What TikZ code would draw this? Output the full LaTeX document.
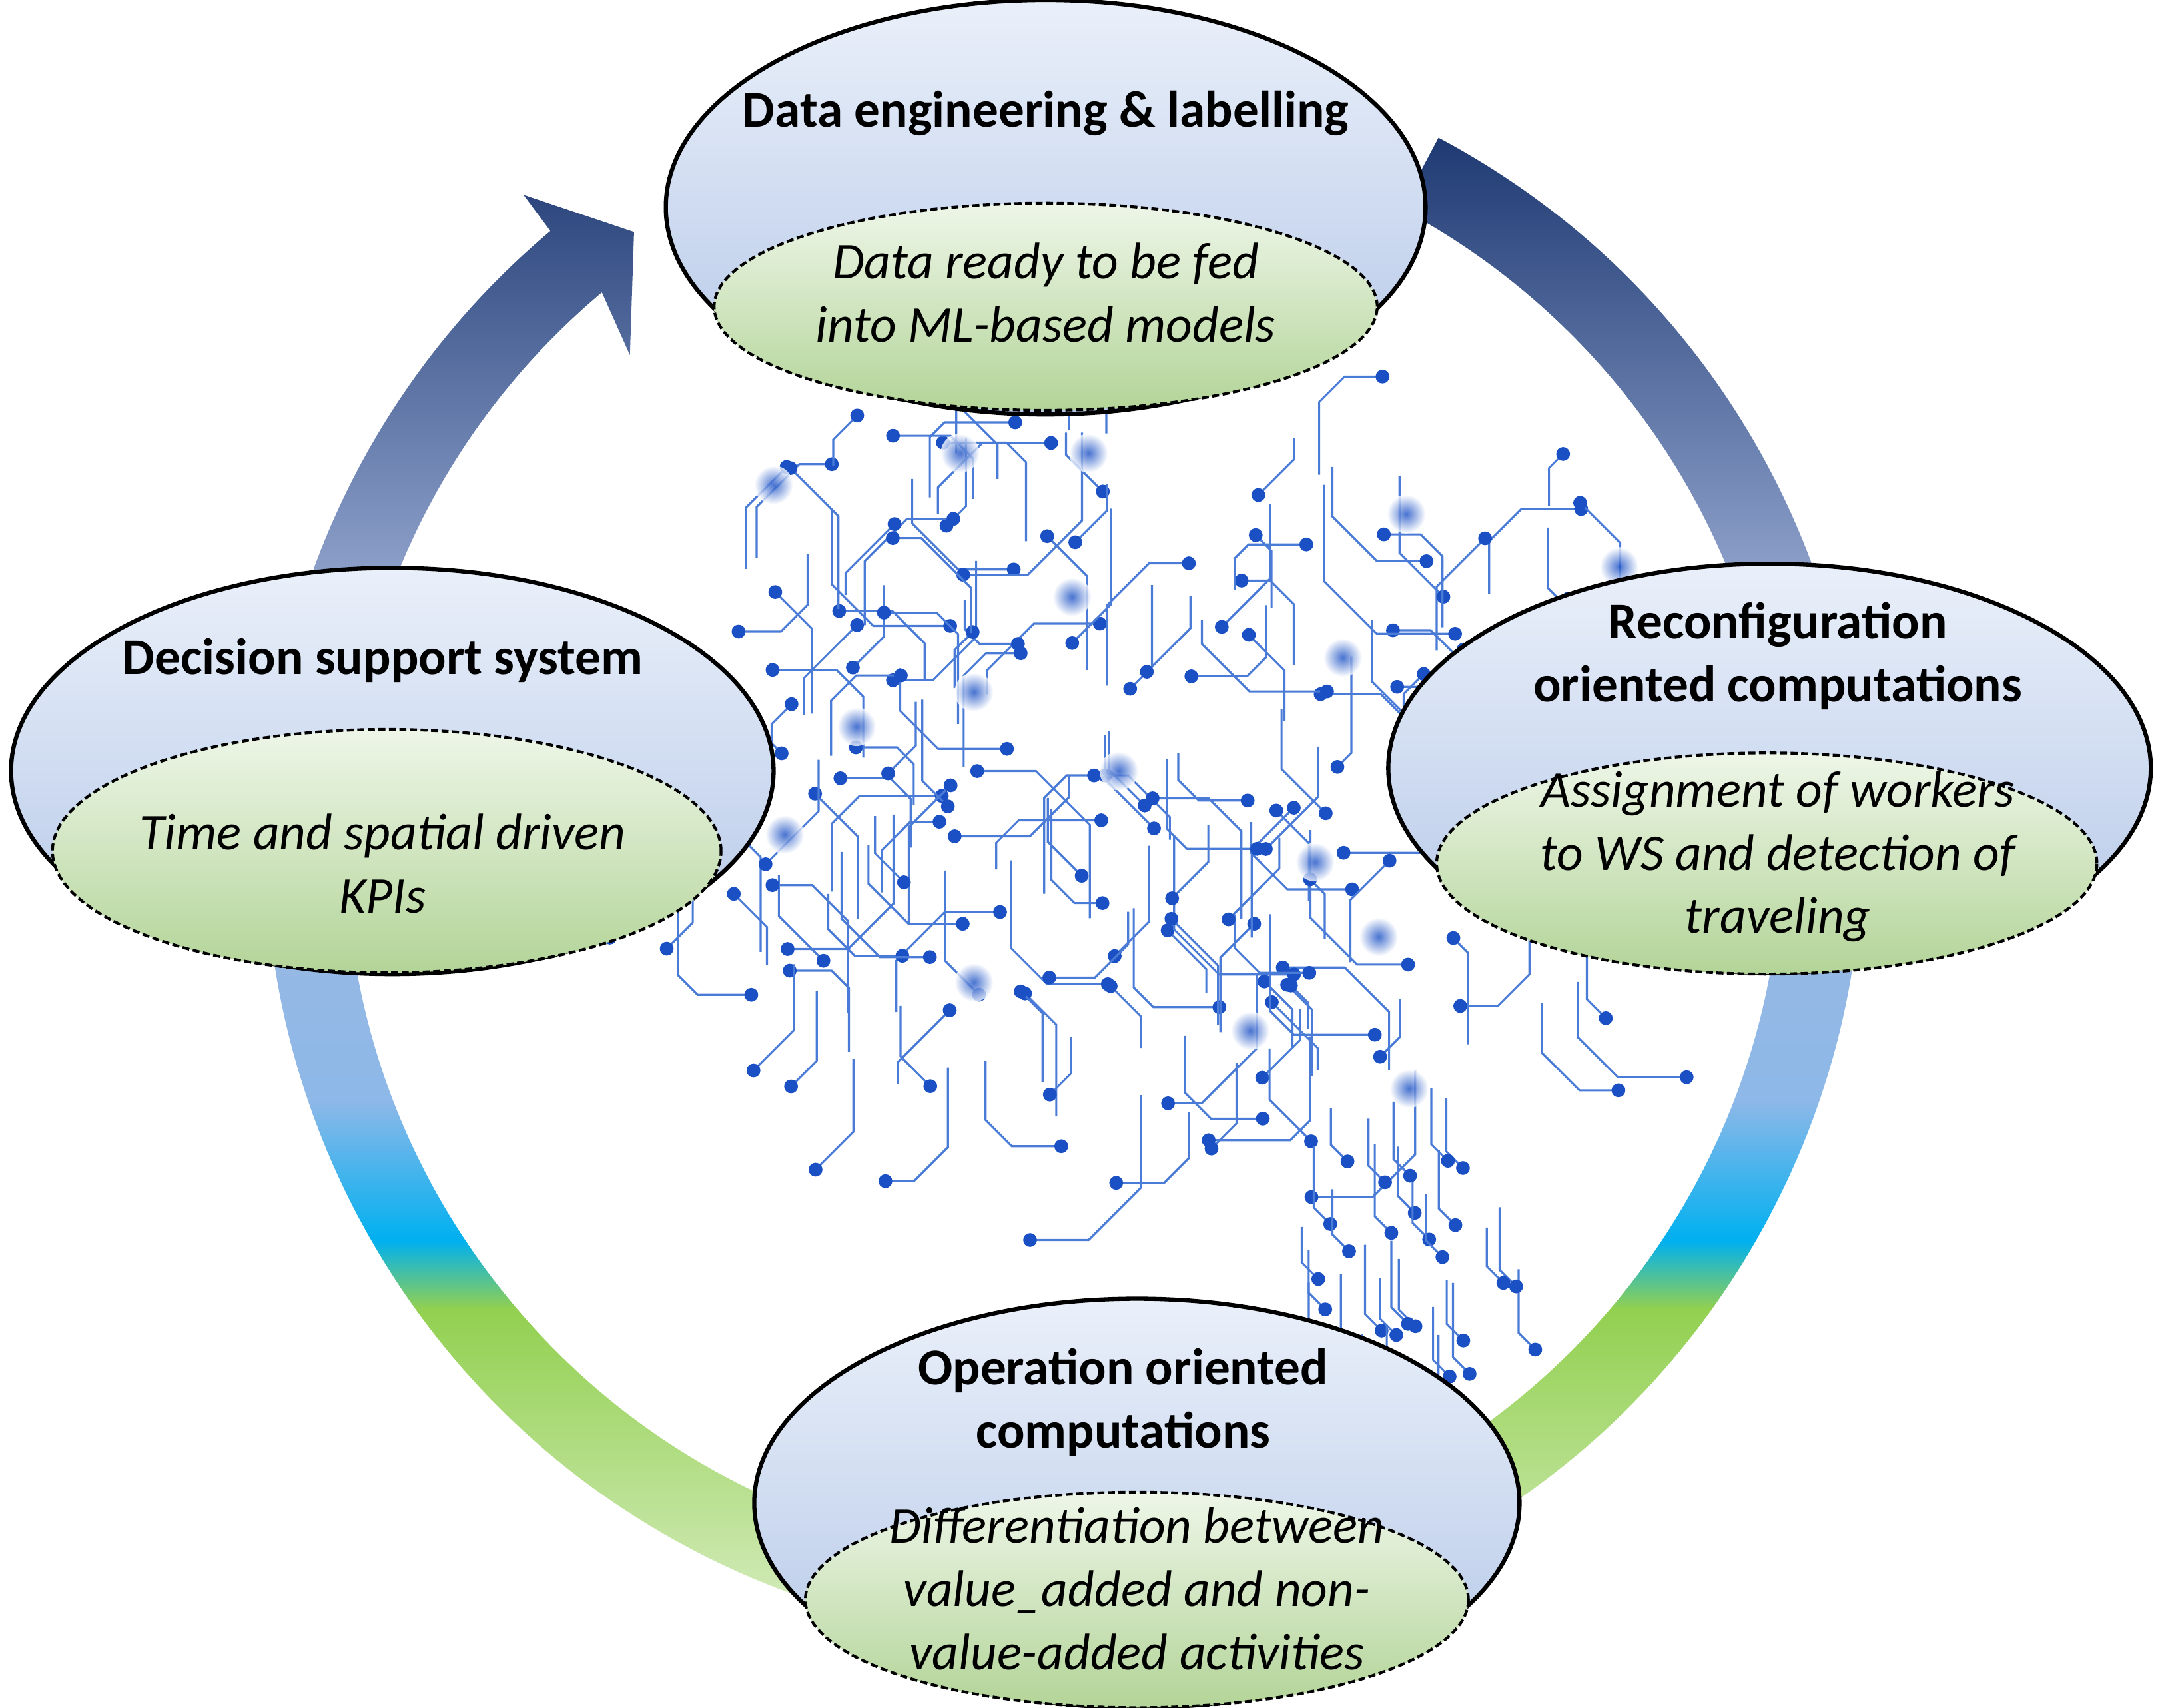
\documentclass[tikz,border=0pt]{standalone}
\usepackage{fontspec}
\setmainfont{Carlito}
\definecolor{navyring}{HTML}{1F3A73}
\definecolor{blueringA}{HTML}{A6B8DE}
\definecolor{blueringB}{HTML}{8DB8E8}
\definecolor{cyanring}{HTML}{00B0F0}
\definecolor{greenring}{HTML}{92D050}
\definecolor{palering}{HTML}{F2F8EE}
\definecolor{wire}{HTML}{4A7BD6}
\definecolor{pad}{HTML}{1A50C4}
\definecolor{elltop}{HTML}{EAF0FA}
\definecolor{ellbot}{HTML}{B4C7E7}
\definecolor{inntop}{HTML}{EEF6E8}
\definecolor{innbot}{HTML}{B3D498}
\newcommand\pxu{0.02074cm}
\pgfdeclareverticalshading{ringshade}{100bp}{color(0bp)=(palering); color(25bp)=(palering);
  color(38.8bp)=(greenring); color(40.9bp)=(cyanring); color(45.2bp)=(blueringB);
  color(58.2bp)=(blueringA); color(75bp)=(navyring); color(100bp)=(navyring)}
\usetikzlibrary{shapes.geometric,calc}
\tikzset{
  outerell/.style={ellipse, draw=black, line width=1.8pt, top color=elltop, bottom color=ellbot, inner sep=0pt},
  innerell/.style={ellipse, draw=black, line width=1.2pt, dash pattern=on 3pt off 1.5pt, top color=inntop, bottom color=innbot, inner sep=0pt},
  title/.style={font=\fontsize{22}{27}\selectfont\bfseries, align=center},
  detail/.style={font=\fontsize{22}{27}\selectfont\itshape, align=center},
}
\begin{document}
\begin{tikzpicture}[x=\pxu,y=\pxu]
    \useasboundingbox (0,0) rectangle (1568,1236);

    % circuit brain
    \pgfmathsetseed{11}
    \foreach \i in {1,...,170}{
        \pgfmathsetmacro\ang{360*rnd}
        \pgfmathsetmacro\rad{sqrt(rnd)}
        \pgfmathsetmacro\px{830+400*\rad*cos(\ang)}
        \pgfmathsetmacro\py{690+270*\rad*sin(\ang)}
        \pgfmathsetmacro\len{(rnd<0.5?-1:1)*(15+55*rnd)}
        \pgfmathsetmacro\dx{(rnd<0.5?-1:1)*(10+30*rnd)}
        \pgfmathsetmacro\dy{(\len<0?-1:1)*abs(\dx)}
        \pgfmathsetmacro\hx{(\dx<0?-1:1)*(rnd<0.5?0:20+40*rnd)}
        \draw[wire, line width=0.9pt] (\px,\py) -- ++(0,\len) -- ++(\dx,\dy) -- ++(\hx,0) coordinate (e\i);
        \fill[pad] (e\i) circle (5);
    }
    \foreach \i in {1,...,30}{
        \pgfmathsetmacro\px{930+170*rnd}
        \pgfmathsetmacro\py{260+190*rnd}
        \draw[wire, line width=0.9pt] (\px,\py) -- ++(0,-25-30*rnd) -- ++(12,-12) coordinate (s\i);
        \fill[pad] (s\i) circle (5);
    }
    \foreach \gx/\gy in {560/885,695/908,788/908,776/804,620/710,705/735,810/678,568/632,952/612,998/558,705/525,905/490,1020/448,1172/826,972/760,1018/864}{
        \shade[inner color=pad, outer color=white, opacity=0.8] (\gx,\gy) circle (14);
    }

    % ring with arrow head
    \coordinate (ringc) at (770,626);
    \shade[shading=ringshade]
        ($(ringc)+(62:578)$) arc[start angle=62, end angle=-230, radius=578]
        -- (379,1095) -- (459,1068) -- (456,979)
        -- ($(ringc)+(-230:520)$) arc[start angle=-230, end angle=62, radius=520] -- cycle;

    % top
    \node[outerell, minimum width=550*\pxu, minimum height=300*\pxu] (dataout) at (757,1086) {};
    \node[innerell, minimum width=480*\pxu, minimum height=150*\pxu] (datain) at (757,1014) {};
    \node[title] (datatitle) at (757,1154) {Data engineering \& labelling};
    \node[detail] (datatext) at (757,1024) {Data ready to be fed\\into ML-based models};

    % left
    \node[outerell, minimum width=552*\pxu, minimum height=294*\pxu] (dssout) at (284,678) {};
    \node[innerell, minimum width=484*\pxu, minimum height=176*\pxu] (dssin) at (280,620) {};
    \node[title] (dsstitle) at (277,758) {Decision support system};
    \node[detail] (dsstext) at (277,611) {Time and spatial driven\\KPIs};

    % right
    \node[outerell, minimum width=552*\pxu, minimum height=296*\pxu] (recout) at (1281,680) {};
    \node[innerell, minimum width=478*\pxu, minimum height=160*\pxu] (recin) at (1279,611) {};
    \node[title] (rectitle) at (1287,761) {Reconfiguration\\oriented computations};
    \node[detail] (rectext) at (1287,616) {Assignment of workers\\to WS and detection of\\traveling};

    % bottom
    \node[outerell, minimum width=554*\pxu, minimum height=296*\pxu] (opout) at (823,148) {};
    \node[innerell, minimum width=480*\pxu, minimum height=156*\pxu] (opin) at (823,78) {};
    \node[title] (optitle) at (813,221) {Operation oriented\\computations};
    \node[detail] (optext) at (823,86) {Differentiation between\\value\_added and non-\\value-added activities};
\end{tikzpicture}
\end{document}
